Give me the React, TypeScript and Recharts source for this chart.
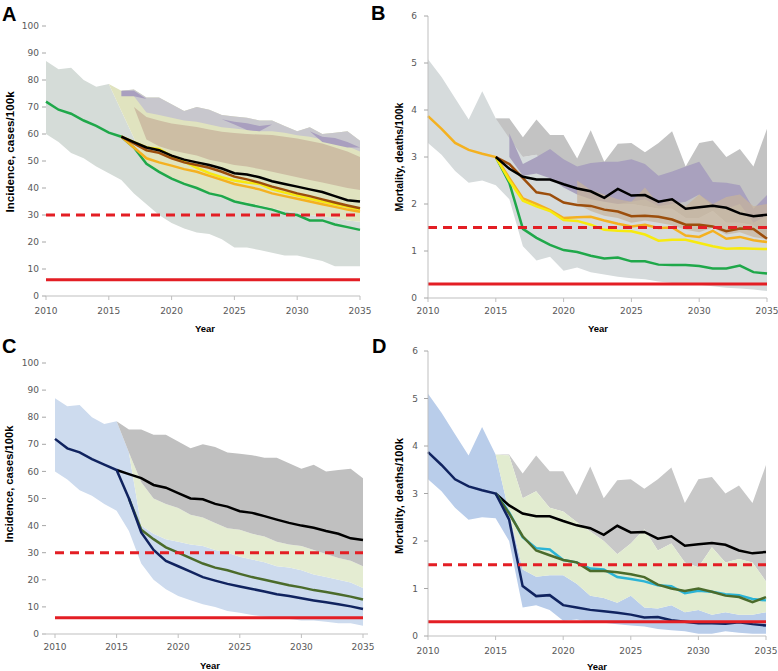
import { ComposedChart, Area, Line, XAxis, YAxis } from 'recharts'

// years on the x axis
const years = [
  2010, 2011, 2012, 2013, 2014, 2015, 2016, 2017, 2018, 2019, 2020, 2021, 2022,
  2023, 2024, 2025, 2026, 2027, 2028, 2029, 2030, 2031, 2032, 2033, 2034, 2035,
]
const yearTicks = [2010, 2015, 2020, 2025, 2030, 2035]
const incidenceTicks = [0, 10, 20, 30, 40, 50, 60, 70, 80, 90, 100]
const mortalityTicks = [0, 1, 2, 3, 4, 5, 6]

// targets (red lines)
const incidenceMilestone = 30
const incidenceGoal = 6
const mortalityMilestone = 1.5
const mortalityGoal = 0.3

const _ = null

// ---- panel A: incidence ----
const aGreen = [72, 69, 67.5, 65, 63, 60.5, 59, 55, 49, 46, 43.5, 41.5, 40, 38, 37, 35, 34, 33, 32, 30.5, 30, 28, 28, 26.5, 25.5, 24.5]
const aBlack = [_, _, _, _, _, _, 59, 57, 55, 54, 52, 50.5, 49.5, 48.5, 47.2, 45.5, 45, 44, 42.5, 41.5, 40.5, 39.5, 38.5, 37, 35.5, 35]
const aBrown = [_, _, _, _, _, _, 59, 56.5, 54, 53, 51, 49.5, 48.5, 47.5, 46, 44.2, 43.2, 42, 40.5, 39.3, 38, 37, 35.8, 34.6, 33.5, 32.5]
const aYellow = [_, _, _, _, _, _, 59, 57, 55, 54.5, 51.8, 49.8, 47.5, 45.5, 44, 42.8, 42, 41.5, 39.5, 38.3, 37.2, 36, 35, 34, 33, 32]
const aOrange = [_, _, _, _, _, _, 59, 55, 51, 49.5, 48.3, 47, 46, 44.5, 43, 41.5, 40.5, 39.5, 38, 37, 36, 35, 34, 33, 32, 31.2]
const aLightLo = [60, 57, 53, 51, 48, 45.5, 43, 38, 34, 30, 27, 25, 23.5, 23, 21, 18, 18, 17, 16, 15, 15, 14, 13, 11, 11, 11]
const aLightHi = [87, 84, 84.5, 80, 77.5, 78.5, 68.5, 58.5, 49, 46, 43.5, 41.5, 40, 38, 37, 35.5, 34.5, 33.5, 32.5, 31.5, 31, 30, 29.5, 29, 28, 27.5]
const aYellowLo = [_, _, _, _, _, 78.5, 68.5, 58.5, 49, 46, 43.5, 41.5, 40, 38, 37, 35.5, 34.5, 33.5, 32.5, 31.5, 31, 30, 29.5, 29, 28, 27.5]
const aYellowHi = [_, _, _, _, _, 78.5, 76, 76.5, 73.5, 73.5, 71, 68.5, 70, 69, 67, 66.5, 66, 65, 65, 63, 61, 62.5, 60, 60.5, 61, 57.5]
const aGrayLo = [_, _, _, _, _, _, 76, 74, 68, 67, 66, 65, 64.5, 63.5, 62.5, 62, 61.5, 61, 61, 60.5, 59.5, 59, 58, 57, 55.5, 53.5]
const aGrayHi = [_, _, _, _, _, _, 76, 76.5, 73.5, 73.5, 71, 68.5, 70, 69, 67, 66.5, 66, 65, 65, 63, 61, 62.5, 60, 60.5, 61, 57.5]
const aPurpleLo = [_, _, _, _, _, _, 74, 74, 73, 72.5, 70, 68, 68.5, 67.5, 65.5, 63.5, 61.5, 61, 63.5, 62, 60, 61, 57, 56, 55, 55]
const aPurpleHi = [_, _, _, _, _, _, 76, 76, 73, 72.5, 70, 68, 68.5, 67.5, 65.5, 64.5, 64, 63, 63.5, 62, 60, 61, 59, 58.5, 57, 55]
const aTanLo = [_, _, _, _, _, _, _, 70, 58, 55.5, 54, 53, 52, 50.5, 49.5, 48.5, 48, 47, 46, 45, 44, 43, 42, 41, 40, 39.3]
const aTanHi = [_, _, _, _, _, _, _, 70, 66.3, 65, 63.9, 63.2, 62.6, 61.7, 60.8, 60.4, 60, 59.8, 59.6, 59, 58.3, 57.4, 56.5, 55, 53.5, 51.5]

// ---- panel B: mortality ----
const bOrange = [3.87, 3.6, 3.3, 3.15, 3.07, 3.0, 2.55, 2.12, 2.0, 1.87, 1.7, 1.72, 1.73, 1.65, 1.58, 1.52, 1.56, 1.49, 1.5, 1.33, 1.3, 1.43, 1.26, 1.3, 1.23, 1.19]
const bBlack = [_, _, _, _, _, 3.0, 2.75, 2.58, 2.52, 2.52, 2.42, 2.33, 2.27, 2.13, 2.32, 2.18, 2.19, 2.05, 2.1, 1.9, 1.93, 1.96, 1.92, 1.8, 1.74, 1.77]
const bBrown = [_, _, _, _, _, 3.0, 2.85, 2.55, 2.25, 2.2, 2.03, 1.98, 1.96, 1.88, 1.84, 1.74, 1.75, 1.73, 1.67, 1.56, 1.56, 1.52, 1.42, 1.48, 1.47, 1.26]
const bYellow = [_, _, _, _, _, 3.0, 2.5, 2.07, 1.95, 1.85, 1.66, 1.64, 1.56, 1.45, 1.43, 1.42, 1.35, 1.22, 1.24, 1.24, 1.17, 1.1, 1.05, 1.06, 1.05, 1.04]
const bGreen = [_, _, _, _, _, 3.0, 2.45, 1.47, 1.28, 1.13, 1.02, 0.98, 0.9, 0.84, 0.86, 0.78, 0.78, 0.71, 0.7, 0.7, 0.68, 0.63, 0.63, 0.69, 0.55, 0.52]
const bLightLo = [3.3, 3.05, 2.7, 2.45, 2.5, 2.4, 2.1, 1.1, 0.8, 0.88, 0.58, 0.65, 0.55, 0.5, 0.45, 0.42, 0.4, 0.35, 0.32, 0.3, 0.28, 0.25, 0.22, 0.2, 0.18, 0.15]
const bLightHi = [5.08, 4.7, 4.25, 3.8, 4.4, 3.82, 3.82, 3.0, 3.05, 2.7, 2.6, 2.35, 2.3, 2.1, 2.0, 2.0, 1.95, 1.9, 1.9, 1.7, 1.7, 1.85, 1.6, 1.6, 1.55, 1.3]
const bGrayLo = [_, _, _, _, _, 3.82, 3.4, 3.0, 3.05, 2.7, 2.6, 2.35, 2.3, 2.1, 2.0, 2.0, 1.95, 1.9, 1.9, 1.7, 1.7, 1.85, 1.6, 1.6, 1.55, 1.3]
const bGrayHi = [_, _, _, _, _, 3.82, 3.82, 3.42, 3.8, 3.47, 3.47, 2.97, 3.57, 2.9, 3.28, 3.3, 3.1, 3.3, 3.55, 2.8, 3.3, 3.35, 3.0, 3.17, 2.8, 3.6]
const bPurpleLo = [_, _, _, _, _, _, 3.0, 2.6, 2.65, 2.55, 2.35, 2.2, 2.1, 2.05, 2.0, 2.05, 2.1, 1.95, 2.0, 2.05, 2.2, 1.95, 1.9, 2.0, 1.6, 1.75]
const bPurpleHi = [_, _, _, _, _, _, 3.5, 2.85, 3.0, 3.17, 2.95, 2.8, 2.87, 2.9, 2.9, 2.95, 2.85, 2.6, 2.69, 2.8, 2.9, 2.47, 2.45, 2.4, 1.9, 2.19]
const bTanLo = [_, _, _, _, _, _, _, _, _, _, _, 2.0, 1.85, 1.75, 1.7, 1.6, 1.65, 1.6, 1.55, 1.45, 1.4, 1.5, 1.35, 1.4, 1.3, 1.25]
const bTanHi = [_, _, _, _, _, _, _, _, _, _, _, 2.5, 2.3, 2.2, 2.1, 2.05, 2.35, 2.0, 2.1, 1.95, 2.2, 2.0, 2.15, 2.2, 1.95, 2.0]

// ---- panel C: incidence ----
const cNavy = [72, 68.5, 67, 64.5, 62.5, 60.5, 50, 37.5, 31, 27, 25, 23, 21, 19.7, 18.5, 17.5, 16.6, 15.7, 14.7, 14, 13.2, 12.4, 11.7, 11, 10.2, 9.2]
const cOlive = [_, _, _, _, _, _, 50, 38.5, 35, 32, 30, 28, 26, 24.5, 23.5, 22.2, 21, 20, 19, 18, 17.2, 16.2, 15.5, 14.7, 13.8, 12.7]
const cBlack = [_, _, _, _, _, 60.5, 59, 57.5, 55, 54, 52, 50, 49.7, 48, 47, 45.3, 44.7, 43.5, 42.2, 41, 40, 39.2, 38, 37, 35.3, 34.7]
const cBlueLo = [60, 57, 53, 51, 48, 45.5, 38, 26, 20, 16.5, 14, 12.5, 11, 10, 8.5, 7.8, 7, 6.5, 6, 5.5, 5, 5, 4.5, 4, 4, 3]
const cBlueHi = [87, 84, 84.5, 80, 77.5, 78.5, 67, 40, 37, 35, 34, 33, 32.5, 31, 30, 28.5, 27.5, 26.5, 25, 24.5, 23.5, 22, 21, 20, 19, 17]
const cYgLo = [_, _, _, _, _, _, 67, 40, 37, 35, 34, 33, 32.5, 31, 30, 28.5, 27.5, 26.5, 25, 24.5, 23.5, 22, 21, 20, 19, 17]
const cYgHi = [_, _, _, _, _, _, 67, 56, 50, 48, 46.5, 44, 43, 41, 39, 38.5, 37, 36, 34, 33, 32.5, 31, 29.5, 28, 27, 25]
const cGrayLo = [_, _, _, _, _, 78.5, 67, 56, 50, 48, 46.5, 44, 43, 41, 39, 38.5, 37, 36, 34, 33, 32.5, 31, 29.5, 28, 27, 25]
const cGrayHi = [_, _, _, _, _, 78.5, 75.5, 75.5, 73.5, 73.5, 71, 68.5, 70, 69, 67, 66.5, 66, 65, 65, 63, 61, 62.5, 60, 60.5, 61, 57.5]

// ---- panel D: mortality ----
const dNavy = [3.87, 3.6, 3.3, 3.15, 3.07, 3.0, 2.45, 1.05, 0.84, 0.86, 0.65, 0.6, 0.55, 0.52, 0.49, 0.45, 0.39, 0.4, 0.33, 0.3, 0.27, 0.27, 0.26, 0.29, 0.25, 0.22]
const dCyan = [_, _, _, _, _, 3.0, 2.6, 2.08, 1.85, 1.82, 1.6, 1.55, 1.42, 1.4, 1.24, 1.2, 1.15, 1.07, 1.05, 0.9, 0.95, 0.93, 0.88, 0.86, 0.78, 0.75]
const dOlive = [_, _, _, _, _, 3.0, 2.58, 2.1, 1.8, 1.7, 1.6, 1.55, 1.37, 1.37, 1.34, 1.3, 1.24, 1.08, 1.0, 0.95, 1.0, 0.93, 0.85, 0.82, 0.71, 0.82]
const dBlack = [_, _, _, _, _, 3.0, 2.75, 2.58, 2.52, 2.52, 2.42, 2.33, 2.27, 2.13, 2.32, 2.18, 2.19, 2.05, 2.1, 1.9, 1.93, 1.96, 1.92, 1.8, 1.74, 1.77]
const dBlueLo = [3.3, 3.05, 2.7, 2.45, 2.5, 2.48, 2.0, 0.6, 0.65, 0.55, 0.32, 0.35, 0.3, 0.28, 0.25, 0.22, 0.2, 0.15, 0.12, 0.1, 0.05, 0.05, 0.1, 0.07, 0.05, 0.05]
const dBlueHi = [5.1, 4.7, 4.25, 3.8, 4.4, 3.82, 2.6, 1.4, 1.25, 1.28, 1.28, 1.1, 0.85, 0.8, 0.7, 0.85, 0.6, 0.58, 0.65, 0.5, 0.55, 0.45, 0.5, 0.45, 0.45, 0.5]
const dYgLo = [_, _, _, _, _, 3.82, 2.6, 1.4, 1.25, 1.28, 1.28, 1.1, 0.85, 0.8, 0.7, 0.85, 0.6, 0.58, 0.65, 0.5, 0.55, 0.45, 0.5, 0.45, 0.45, 0.5]
const dYgHi = [_, _, _, _, _, 3.82, 3.8, 2.9, 3.05, 2.7, 2.62, 2.4, 2.2, 2.0, 1.72, 1.95, 2.25, 1.8, 1.95, 1.55, 1.45, 1.87, 1.55, 1.62, 1.55, 1.15]
const dGrayHi = [_, _, _, _, _, 3.82, 3.82, 3.42, 3.8, 3.47, 3.47, 2.97, 3.57, 2.9, 3.28, 3.3, 3.1, 3.3, 3.55, 2.8, 3.3, 3.35, 3.0, 3.17, 2.8, 3.6]

type Val = number | null
const band = (lo: Val[], hi: Val[], i: number) =>
  lo[i] == null || hi[i] == null ? null : [lo[i], hi[i]]

const dataA = years.map((year, i) => ({
  year,
  light: band(aLightLo, aLightHi, i),
  yellowBand: band(aYellowLo, aYellowHi, i),
  gray: band(aGrayLo, aGrayHi, i),
  purple: band(aPurpleLo, aPurpleHi, i),
  tan: band(aTanLo, aTanHi, i),
  green: aGreen[i],
  yellow: aYellow[i],
  orange: aOrange[i],
  brown: aBrown[i],
  black: aBlack[i],
  milestone: incidenceMilestone,
  goal: incidenceGoal,
}))

const dataB = years.map((year, i) => ({
  year,
  light: band(bLightLo, bLightHi, i),
  gray: band(bGrayLo, bGrayHi, i),
  purple: band(bPurpleLo, bPurpleHi, i),
  tan: band(bTanLo, bTanHi, i),
  green: bGreen[i],
  orange: bOrange[i],
  yellow: bYellow[i],
  brown: bBrown[i],
  black: bBlack[i],
  milestone: mortalityMilestone,
  goal: mortalityGoal,
}))

const dataC = years.map((year, i) => ({
  year,
  blue: band(cBlueLo, cBlueHi, i),
  yg: band(cYgLo, cYgHi, i),
  gray: band(cGrayLo, cGrayHi, i),
  black: cBlack[i],
  olive: cOlive[i],
  navy: cNavy[i],
  milestone: incidenceMilestone,
  goal: incidenceGoal,
}))

const dataD = years.map((year, i) => ({
  year,
  blue: band(dBlueLo, dBlueHi, i),
  gray: band(dYgHi, dGrayHi, i),
  yg: band(dYgLo, dYgHi, i),
  black: dBlack[i],
  cyan: dCyan[i],
  olive: dOlive[i],
  navy: dNavy[i],
  milestone: mortalityMilestone,
  goal: mortalityGoal,
}))

interface BandSpec {
  key: string
  color: string
  opacity?: number
}
interface LineSpec {
  key: string
  color: string
}
interface PanelProps {
  data: object[]
  bands: BandSpec[]
  lines: LineSpec[]
  yTicks: number[]
  left: number
  top: number
  width: number
  height: number
  margin: { top: number; right: number; bottom: number; left: number }
  yAxisWidth: number
  yAxisLine: boolean
  xPadding?: { left: number; right: number }
  xTickMargin: number
  yTickMargin: number
}

const tickStyle = { fontSize: 9, fill: '#595959', fontFamily: 'DejaVu Sans' }

function Panel(p: PanelProps) {
  const yMax = p.yTicks[p.yTicks.length - 1]
  return (
    <div style={{ position: 'absolute', left: p.left, top: p.top }}>
      <ComposedChart width={p.width} height={p.height} data={p.data} margin={p.margin}>
        <XAxis
          dataKey="year"
          type="number"
          domain={[2010, 2035]}
          ticks={yearTicks}
          interval={0}
          padding={p.xPadding ?? { left: 0, right: 0 }}
          height={30}
          tick={tickStyle}
          axisLine={{ stroke: '#bfbfbf' }}
          tickLine={{ stroke: '#bfbfbf' }}
          tickSize={4}
          tickMargin={p.xTickMargin}
        />
        <YAxis
          type="number"
          domain={[0, yMax]}
          ticks={p.yTicks}
          interval={0}
          width={p.yAxisWidth}
          tick={tickStyle}
          axisLine={p.yAxisLine ? { stroke: '#bfbfbf' } : false}
          tickLine={{ stroke: '#a6a6a6' }}
          tickSize={4}
          tickMargin={p.yTickMargin}
        />
        {p.bands.map((b) => (
          <Area
            key={b.key}
            type="linear"
            dataKey={b.key}
            stroke="none"
            fill={b.color}
            fillOpacity={b.opacity ?? 1}
            activeDot={false}
            isAnimationActive={false}
          />
        ))}
        {p.lines.map((l) => (
          <Line
            key={l.key}
            type="linear"
            dataKey={l.key}
            stroke={l.color}
            strokeWidth={2.5}
            dot={false}
            activeDot={false}
            isAnimationActive={false}
          />
        ))}
        <Line type="linear" dataKey="milestone" stroke="#e31e24" strokeWidth={3} strokeDasharray="9 6" dot={false} activeDot={false} isAnimationActive={false} />
        <Line type="linear" dataKey="goal" stroke="#e31e24" strokeWidth={3} dot={false} activeDot={false} isAnimationActive={false} />
      </ComposedChart>
    </div>
  )
}

const titleFont = 'Liberation Sans, Arial, sans-serif'

export default function App() {
  return (
    <div style={{ position: 'absolute', left: 0, top: 0, width: 778, height: 671, background: '#fff', overflow: 'hidden' }}>
      <Panel
        data={dataA}
        bands={[
          { key: 'light', color: '#d5dcd8' },
          { key: 'yellowBand', color: '#e0e3bf' },
          { key: 'gray', color: '#c8c7cd' },
          { key: 'purple', color: '#a99fbf' },
          { key: 'tan', color: '#cdbea4' },
        ]}
        lines={[
          { key: 'green', color: '#1fa84a' },
          { key: 'yellow', color: '#f7e90f' },
          { key: 'orange', color: '#f4b120' },
          { key: 'brown', color: '#9c4e0c' },
          { key: 'black', color: '#000000' },
        ]}
        yTicks={incidenceTicks}
        left={0}
        top={0}
        width={390}
        height={340}
        margin={{ top: 26, right: 30, bottom: 14, left: 0 }}
        yAxisWidth={46}
        yAxisLine={false}
        xTickMargin={8}
        yTickMargin={3}
      />
      <Panel
        data={dataB}
        bands={[
          { key: 'light', color: '#d6dbdc' },
          { key: 'gray', color: '#c3c3c3' },
          { key: 'purple', color: '#a9a1be' },
          { key: 'tan', color: '#c8b49a', opacity: 0.7 },
        ]}
        lines={[
          { key: 'green', color: '#1fa84a' },
          { key: 'orange', color: '#f4b120' },
          { key: 'yellow', color: '#f7ea0f' },
          { key: 'brown', color: '#9c4e0c' },
          { key: 'black', color: '#000000' },
        ]}
        yTicks={mortalityTicks}
        left={388}
        top={0}
        width={390}
        height={340}
        margin={{ top: 16, right: 11, bottom: 12, left: 0 }}
        yAxisWidth={40}
        yAxisLine={true}
        xTickMargin={6}
        yTickMargin={7}
      />
      <Panel
        data={dataC}
        bands={[
          { key: 'blue', color: '#cddbee' },
          { key: 'yg', color: '#e4ecd2' },
          { key: 'gray', color: '#c0c0c0' },
        ]}
        lines={[
          { key: 'black', color: '#000000' },
          { key: 'olive', color: '#4b6b2b' },
          { key: 'navy', color: '#10235f' },
        ]}
        yTicks={incidenceTicks}
        left={0}
        top={330}
        width={390}
        height={341}
        margin={{ top: 33, right: 22, bottom: 7, left: 0 }}
        yAxisWidth={46}
        yAxisLine={false}
        xPadding={{ left: 9, right: 5 }}
        xTickMargin={6}
        yTickMargin={3}
      />
      <Panel
        data={dataD}
        bands={[
          { key: 'blue', color: '#b9cdea' },
          { key: 'gray', color: '#c8c8c8' },
          { key: 'yg', color: '#e2ecd0' },
        ]}
        lines={[
          { key: 'black', color: '#000000' },
          { key: 'cyan', color: '#2bb4d6' },
          { key: 'olive', color: '#4b6b2b' },
          { key: 'navy', color: '#10235f' },
        ]}
        yTicks={mortalityTicks}
        left={388}
        top={330}
        width={390}
        height={341}
        margin={{ top: 21, right: 12, bottom: 5, left: 0 }}
        yAxisWidth={40}
        yAxisLine={true}
        xTickMargin={8}
        yTickMargin={6}
      />
      <svg width={778} height={671} style={{ position: 'absolute', left: 0, top: 0, pointerEvents: 'none' }}>
        <g fontFamily={titleFont} fontWeight="bold" fill="#000">
          <text x={2} y={21} fontSize={20}>A</text>
          <text x={371} y={20} fontSize={20}>B</text>
          <text x={2} y={353} fontSize={20}>C</text>
          <text x={372} y={353} fontSize={20}>D</text>
          <text transform="translate(14,152) rotate(-90)" textAnchor="middle" fontSize={11.6}>Incidence, cases/100k</text>
          <text transform="translate(403,157) rotate(-90)" textAnchor="middle" fontSize={10.5}>Mortality, deaths/100k</text>
          <text transform="translate(13,484) rotate(-90)" textAnchor="middle" fontSize={11.2}>Incidence, cases/100k</text>
          <text transform="translate(403,496) rotate(-90)" textAnchor="middle" fontSize={11.2}>Mortality, deaths/100k</text>
          <text x={205} y={332} textAnchor="middle" fontSize={9.5}>Year</text>
          <text x={598} y={332} textAnchor="middle" fontSize={9.5}>Year</text>
          <text x={210} y={669} textAnchor="middle" fontSize={9.5}>Year</text>
          <text x={597} y={670} textAnchor="middle" fontSize={9.5}>Year</text>
        </g>
      </svg>
    </div>
  )
}
